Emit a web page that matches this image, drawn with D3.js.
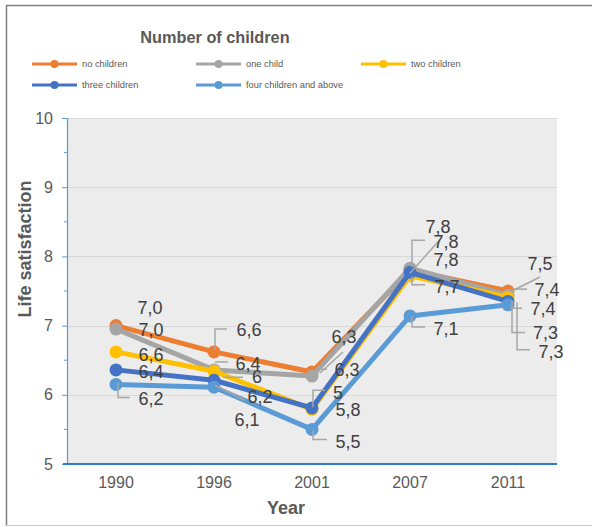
<!DOCTYPE html>
<html>
<head>
<meta charset="utf-8">
<script src="https://cdn.jsdelivr.net/npm/d3@7"></script>
<style>
  html, body { margin: 0; padding: 0; background: #fff; }
  svg { display: block; font-family: Arial, "Liberation Sans", sans-serif; }
</style>
</head>
<body>
<svg id="chart" width="592" height="527"></svg>
<script>
// Survey years on the category axis
const years = ["1990", "1996", "2001", "2007", "2011"];

// Mean life satisfaction by number of children
const seriesNames = ["no children", "one child", "two children", "three children", "four children and above"];
const noChildren    = [7.00, 6.62, 6.33, 7.80, 7.50];
const oneChild      = [6.95, 6.36, 6.27, 7.83, 7.44];
const twoChildren   = [6.62, 6.34, 5.79, 7.72, 7.41];
const threeChildren = [6.36, 6.21, 5.81, 7.77, 7.35];
const fourPlus      = [6.15, 6.11, 5.50, 7.14, 7.30];

// Data label texts as printed next to each point
const noChildrenLabels    = ["7,0", "6,6", "6,3", "7,8", "7,5"];
const oneChildLabels      = ["7,0", "6,4", "6,3", "7,8", "7,4"];
const twoChildrenLabels   = ["6,6", "6", "5", "7,7", "7,4"];
const threeChildrenLabels = ["6,4", "6,2", "5,8", "7,8", "7,3"];
const fourPlusLabels      = ["6,2", "6,1", "5,5", "7,1", "7,3"];

// Y axis ticks
const yTicks = [5, 6, 7, 8, 9, 10];
const yMinorTicks = [5.5, 6.5, 7.5, 8.5, 9.5];

const colors = ["#ED7D31", "#A5A5A5", "#FFC000", "#4472C4", "#5B9BD5"];

// Manual placement of data labels: offset of label centre from its point,
// and leader line vertices relative to the point.
const labelLayout = [
  { off: [[34,-17.6],[35,-21.9],[32,-35.5],[28,-43.2],[32,-27.5]],
    lead: [null, [[1,-2],[1,-23],[13,-23]], [[8,1],[31,-20]], [[0,3],[32,-33]], [[2,1],[32,-14]]] },
  { off: [[35,0.9],[34,-5.9],[35,-6.1],[36,-26.7],[39,-5.7]],
    lead: [null, [[1,-8],[14,-8]], [[7,-7],[15,-7]], [[2,-1],[2,-28],[15,-28]], [[5,-6],[19,-6]]] },
  { off: [[35,2.6],[43,5.7],[26,-16.8],[37,10.7],[35,11.3]],
    lead: [null, [[9,6],[29,6]], [[1,-2],[1,-19],[13,-19]], [[2,1],[2,9],[15,9]], [[2,11],[14,11]]] },
  { off: [[35,1.6],[46,16.7],[36,2],[36,-12.8],[37.5,31.1]],
    lead: [null, [[1,5],[31,20]], null, null, [[4,-1],[4,31],[17,31]]] },
  { off: [[35,14.1],[33,32.3],[36,12.1],[36,12.6],[43,46.7]],
    lead: [[[2,-2],[2,13],[14,13]], null, [[1,1],[1,10],[15,10]], [[2,0],[2,11],[15,11]], [[9,-2],[9,45],[22,45]]] }
];

const seriesValues = [noChildren, oneChild, twoChildren, threeChildren, fourPlus];
const seriesLabels = [noChildrenLabels, oneChildLabels, twoChildrenLabels, threeChildrenLabels, fourPlusLabels];
const series = seriesNames.map((name, i) => ({
  name, color: colors[i], values: seriesValues[i], labels: seriesLabels[i], layout: labelLayout[i]
}));

const svg = d3.select("#chart");

// Chart frame
svg.append("line").attr("x1", 6.5).attr("x2", 6.5).attr("y1", 5).attr("y2", 526)
  .attr("stroke", "#7f7f7f").attr("stroke-width", 1.5);
svg.append("line").attr("x1", 6).attr("x2", 592).attr("y1", 5.5).attr("y2", 5.5)
  .attr("stroke", "#7f7f7f").attr("stroke-width", 1.5);
svg.append("line").attr("x1", 6).attr("x2", 592).attr("y1", 525.5).attr("y2", 525.5)
  .attr("stroke", "#c9c9c9").attr("stroke-width", 1);

const plot = { left: 67, right: 557, top: 118, bottom: 464 };

const x = d3.scaleBand().domain(years).range([plot.left, plot.right]);
const y = d3.scaleLinear().domain([5, 10]).range([plot.bottom, plot.top]);
const cx = d => x(d) + x.bandwidth() / 2;

// Plot background
svg.append("rect")
  .attr("x", plot.left).attr("y", plot.top)
  .attr("width", plot.right - plot.left).attr("height", plot.bottom - plot.top)
  .attr("fill", "#ececec");

// Gridlines
svg.append("g")
  .selectAll("line").data(yTicks.filter(t => t > 5)).join("line")
  .attr("x1", plot.left).attr("x2", plot.right)
  .attr("y1", d => Math.round(y(d)) + 0.5).attr("y2", d => Math.round(y(d)) + 0.5)
  .attr("stroke", "#d9d9d9").attr("stroke-width", 1);

// Y axis
const yAxis = svg.append("g")
  .attr("transform", `translate(${plot.left},0)`)
  .call(d3.axisLeft(y).tickValues(yTicks).tickSize(5).tickPadding(9).tickFormat(d3.format("d")));
yAxis.select(".domain").attr("stroke", "#5B9BD5").attr("stroke-width", 1.2);
yAxis.selectAll(".tick line").attr("stroke", "#5B9BD5");
yAxis.selectAll(".tick text").attr("fill", "#595959").style("font-size", "16px")
  .style("font-family", "Arial, 'Liberation Sans', sans-serif");
svg.append("g").selectAll("line").data(yMinorTicks).join("line")
  .attr("x1", plot.left - 3).attr("x2", plot.left)
  .attr("y1", d => y(d)).attr("y2", d => y(d))
  .attr("stroke", "#5B9BD5").attr("stroke-width", 1);

// X axis
const xAxis = svg.append("g")
  .attr("transform", `translate(0,${plot.bottom})`)
  .call(d3.axisBottom(x).tickSize(0).tickPadding(13));
xAxis.select(".domain").remove();
xAxis.selectAll(".tick text").attr("fill", "#595959").style("font-size", "16px")
  .style("font-family", "Arial, 'Liberation Sans', sans-serif");
svg.append("line")
  .attr("x1", plot.left - 4).attr("x2", plot.right)
  .attr("y1", plot.bottom).attr("y2", plot.bottom)
  .attr("stroke", "#2E7DCB").attr("stroke-width", 2);

// Axis titles
svg.append("text")
  .attr("transform", "translate(31,249) rotate(-90)")
  .attr("text-anchor", "middle")
  .attr("fill", "#595959").attr("font-weight", "bold").style("font-size", "18px")
  .text("Life satisfaction");
svg.append("text")
  .attr("x", 286).attr("y", 513.5)
  .attr("text-anchor", "middle")
  .attr("fill", "#595959").attr("font-weight", "bold").style("font-size", "18px")
  .text("Year");

// Series lines and markers
const line = d3.line().x((d, i) => cx(years[i])).y(d => y(d));
series.forEach(s => {
  const g = svg.append("g");
  g.append("path").datum(s.values)
    .attr("d", line).attr("fill", "none")
    .attr("stroke", s.color).attr("stroke-width", 5)
    .attr("stroke-linejoin", "round").attr("stroke-linecap", "round");
  g.selectAll("circle").data(s.values).join("circle")
    .attr("cx", (d, i) => cx(years[i])).attr("cy", d => y(d))
    .attr("r", 6.5).attr("fill", s.color);
});

// Leader lines
const leaderG = svg.append("g");
series.forEach(s => {
  s.values.forEach((v, i) => {
    const pts = s.layout.lead[i];
    if (!pts) return;
    const px = cx(years[i]), py = y(v);
    leaderG.append("polyline")
      .attr("points", pts.map(p => `${px + p[0]},${py + p[1]}`).join(" "))
      .attr("fill", "none").attr("stroke", "#a6a6a6").attr("stroke-width", 1.5);
  });
});

// Data labels
const labelG = svg.append("g");
const labelSize = 18;
series.forEach(s => {
  s.values.forEach((v, i) => {
    const off = s.layout.off[i];
    labelG.append("text")
      .attr("x", cx(years[i]) + off[0])
      .attr("y", y(v) + off[1] + labelSize * 0.358)
      .attr("text-anchor", "middle")
      .attr("fill", "#404040").style("font-size", labelSize + "px")
      .text(s.labels[i]);
  });
});

// Legend title and entries
svg.append("text")
  .attr("x", 215).attr("y", 43)
  .attr("text-anchor", "middle")
  .attr("fill", "#595959").attr("font-weight", "bold").style("font-size", "16.3px")
  .text("Number of children");

const legendPos = [[32, 64], [196, 64], [361, 64], [32, 85], [196, 85]];
series.forEach((s, i) => {
  const [lx, ly] = legendPos[i];
  const g = svg.append("g").attr("transform", `translate(${lx},${ly})`);
  g.append("line").attr("x1", 0).attr("x2", 45).attr("y1", 0).attr("y2", 0)
    .attr("stroke", s.color).attr("stroke-width", 3);
  g.append("circle").attr("cx", 22.5).attr("cy", 0).attr("r", 4).attr("fill", s.color);
  g.append("text").attr("x", 50).attr("y", 3.3)
    .attr("fill", "#595959").style("font-size", "9.3px")
    .text(s.name);
});
</script>
</body>
</html>
